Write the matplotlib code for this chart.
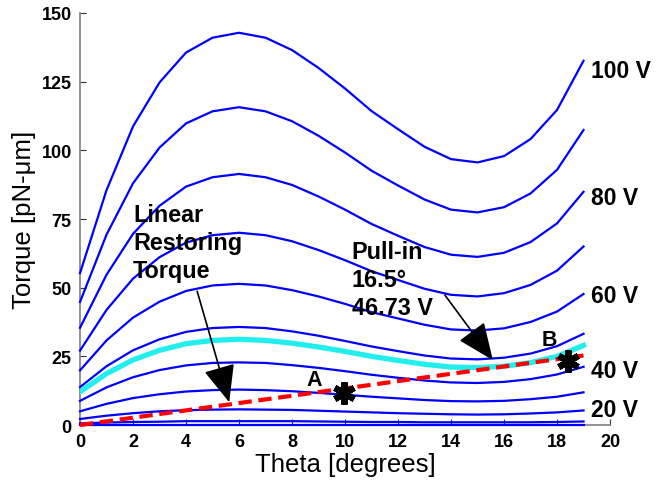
#!/usr/bin/env python3

import matplotlib
matplotlib.use('Agg')
import matplotlib.pyplot as plt
import numpy as np

# Tilt angle samples [degrees]
theta = list(range(20))

# Electrostatic torque curves [pN-um]
t100 = [55.3, 85.5, 108.7, 124.7, 135.6, 141.0, 142.8, 141.0, 136.5, 130.0,
        122.5, 114.3, 107.7, 101.3, 96.8, 95.6, 97.9, 104.1, 114.7, 132.6]
t90 = [44.8, 69.3, 88.0, 101.0, 109.8, 114.2, 115.7, 114.2, 110.6, 105.3,
       99.2, 92.6, 87.2, 82.1, 78.4, 77.4, 79.3, 84.3, 92.9, 107.4]
t80 = [35.4, 54.7, 69.6, 79.8, 86.8, 90.2, 91.4, 90.2, 87.4, 83.2,
       78.4, 73.2, 68.9, 64.8, 62.0, 61.2, 62.7, 66.6, 73.4, 84.9]
t70 = [27.1, 41.9, 53.3, 61.1, 66.4, 69.1, 70.0, 69.1, 66.9, 63.7,
       60.0, 56.0, 52.8, 49.6, 47.4, 46.8, 48.0, 51.0, 56.2, 65.0]
t60 = [19.9, 30.8, 39.1, 44.9, 48.8, 50.8, 51.4, 50.8, 49.1, 46.8,
       44.1, 41.1, 38.8, 36.5, 34.8, 34.4, 35.2, 37.5, 41.3, 47.7]
t50 = [13.8, 21.4, 27.2, 31.2, 33.9, 35.3, 35.7, 35.3, 34.1, 32.5,
       30.6, 28.6, 26.9, 25.3, 24.2, 23.9, 24.5, 26.0, 28.7, 33.2]
t40 = [8.8, 13.7, 17.4, 20.0, 21.7, 22.6, 22.8, 22.6, 21.8, 20.8,
       19.6, 18.3, 17.2, 16.2, 15.5, 15.3, 15.7, 16.7, 18.4, 21.2]
t30 = [5.0, 7.7, 9.8, 11.2, 12.2, 12.7, 12.9, 12.7, 12.3, 11.7,
       11.0, 10.3, 9.7, 9.1, 8.7, 8.6, 8.8, 9.4, 10.3, 11.9]
t20 = [2.2, 3.4, 4.3, 5.0, 5.4, 5.6, 5.7, 5.6, 5.5, 5.2,
       4.9, 4.6, 4.3, 4.1, 3.9, 3.8, 3.9, 4.2, 4.6, 5.3]
t10 = [0.6, 0.9, 1.1, 1.2, 1.4, 1.4, 1.4, 1.4, 1.4, 1.3,
       1.2, 1.1, 1.1, 1.0, 1.0, 1.0, 1.0, 1.0, 1.1, 1.3]
t0 = [0.0] * 20

# Pull-in curve (46.73 V)
tpull = [12.1, 18.7, 23.7, 27.2, 29.6, 30.8, 31.2, 30.8, 29.8, 28.4,
         26.8, 25.0, 23.5, 22.1, 21.1, 20.9, 21.4, 22.7, 25.0, 29.0]

# Linear restoring torque
spring_theta = [0, 19]
spring_torque = [0, 25.3]

# Equilibrium points A and B
eq_theta = [9.95, 18.4]
eq_torque = [11.6, 23.2]
eq_names = ['A', 'B']

volt_labels = ['100 V', '80 V', '60 V', '40 V', '20 V']
volt_label_y = [129, 83, 47, 20, 5.5]


def main():
	plt.rcParams['font.family'] = ['Liberation Sans', 'DejaVu Sans']
	fig = plt.figure(figsize=(6.57, 4.89), dpi=100)
	ax = fig.add_axes([0.1218, 0.1288, 0.8067, 0.8426])

	#Plot the torque curves
	for t in [t100, t90, t80, t70, t60, t50, t40, t30, t20, t10, t0]:
		ax.plot(theta, t, color='#0000ff', lw=1.6, clip_on=False, zorder=3)
	ax.plot(theta, tpull, color='#22eeee', lw=3.8, zorder=3)

	#Restoring torque and equilibrium points
	ax.plot(spring_theta, spring_torque, color='#ff0000', lw=3.0,
		dashes=(3.2, 1.6), zorder=4, clip_on=False)
	ax.plot(eq_theta, eq_torque, ls='none', marker=(6, 2, 0), ms=16,
		mew=4.5, color='k', zorder=5)
	ax.text(8.83, 16.7, eq_names[0], fontsize=15.5, fontweight='bold', ha='center', va='center')
	ax.text(17.7, 31.3, eq_names[1], fontsize=15.5, fontweight='bold', ha='center', va='center')

	#Voltage labels
	for lab, y in zip(volt_labels, volt_label_y):
		ax.text(19.3, y, lab, fontsize=16.5, fontweight='bold', va='center',
			ha='left', clip_on=False)

	#Annotations
	ax.text(2.0, 81, 'Linear\nRestoring\nTorque', fontsize=16.8, fontweight='bold',
		va='top', ha='left', linespacing=1.3)
	ax.text(10.25, 67.5, 'Pull-in\n16.5°\n46.73 V', fontsize=16.8, fontweight='bold',
		va='top', ha='left', linespacing=1.3)
	aprops = dict(arrowstyle='-|>,head_length=1.3,head_width=0.55',
		mutation_scale=18, color='k', lw=1.2, shrinkA=0, shrinkB=0)
	ax.annotate('', xy=(5.63, 8.3), xytext=(4.42, 48.7), arrowprops=aprops)
	ax.annotate('', xy=(15.58, 23.6), xytext=(13.77, 47.3), arrowprops=aprops)

	#Axis configuration
	ax.set_xlim(0, 20)
	ax.set_ylim(0, 150)
	ax.set_xticks(np.arange(0, 21, 2))
	ax.set_yticks(np.arange(0, 151, 25))
	ax.spines['top'].set_visible(False)
	ax.spines['right'].set_visible(False)
	for s in ['left', 'bottom']:
		ax.spines[s].set_color('#808080')
		ax.spines[s].set_linewidth(1.2)
	ax.tick_params(direction='in', length=4, width=0.8, color='#303030',
		labelsize=13, pad=6)
	for lab in ax.get_xticklabels() + ax.get_yticklabels():
		lab.set_fontweight('bold')
	ax.set_xlabel('Theta [degrees]', fontsize=18.5, labelpad=1)
	ax.set_ylabel('Torque [pN-μm]', fontsize=18.5, labelpad=4)

	plt.savefig('out.png', dpi=100)


if __name__ == '__main__':
	main()
